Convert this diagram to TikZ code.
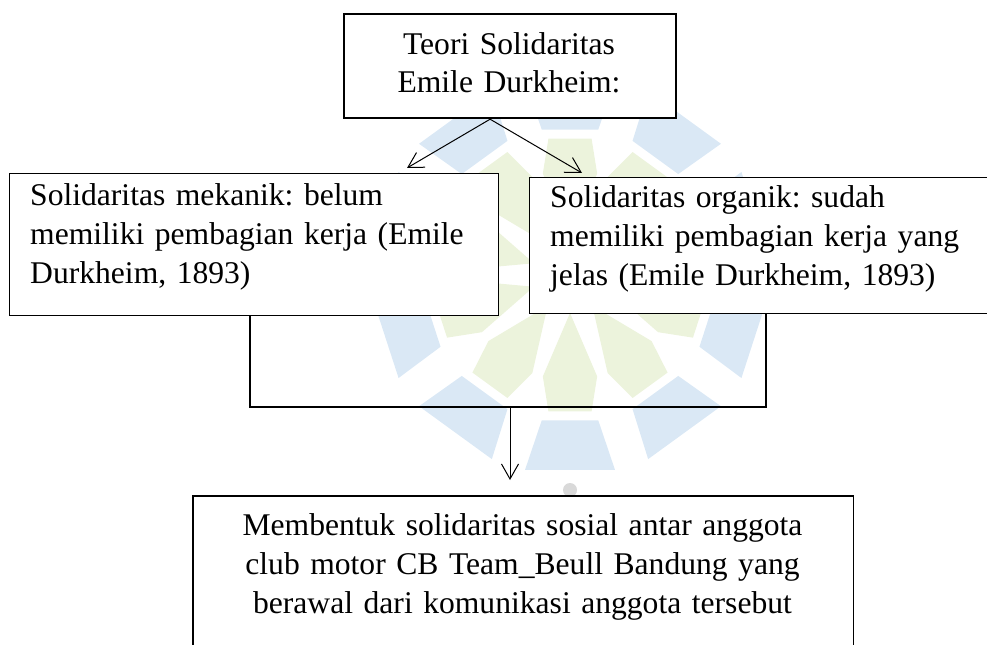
\documentclass[tikz,border=0pt]{standalone}
\usepackage{fontspec}
\setmainfont{Liberation Serif}
\frenchspacing
\usetikzlibrary{arrows.meta,calc}
\definecolor{wmblue}{RGB}{218,232,245}
\definecolor{wmgreen}{RGB}{236,243,220}
\begin{document}
\begin{tikzpicture}[x=1bp,y=-1bp,
  frame/.style={draw=black, fill=white, line width=1.2bp, inner sep=0pt, anchor=north west},
  txt/.style={inner sep=0pt, font=\fontsize{31.6bp}{39bp}\selectfont\frenchspacing},
  arr/.style={-{Straight Barb[length=15bp,width=17bp]}, line width=1bp},
  conn/.style={line width=1.4bp}]
\useasboundingbox (0,0) rectangle (987,645);
% watermark logo
\coordinate (wc) at (570,275);
\foreach \a in {18,54,...,342} {
  \pgfmathsetmacro\aL{\a-11}\pgfmathsetmacro\aR{\a+11}
  \pgfmathsetmacro\bL{\a-13}\pgfmathsetmacro\bR{\a+13}
  \fill[wmblue] ($(wc)+(\aL:148)$) -- ($(wc)+(\bL:200)$) -- ($(wc)+(\bR:200)$) -- ($(wc)+(\aR:148)$) -- cycle;
  \pgfmathsetmacro\cL{\a-15}\pgfmathsetmacro\cR{\a+15}
  \pgfmathsetmacro\dL{\a-9}\pgfmathsetmacro\dR{\a+9}
  \fill[wmgreen] ($(wc)+(\a:38)$) -- ($(wc)+(\cL:105)$) -- ($(wc)+(\dL:138)$) -- ($(wc)+(\dR:138)$) -- ($(wc)+(\cR:105)$) -- cycle;
}
\fill[gray!30] (570,490) circle (7);
% boxes
\node[frame, line width=2.2bp, minimum width=332bp, minimum height=104bp] (top) at (343,13) {};
\node[txt, anchor=base, align=center, text width=330bp, font=\fontsize{31.6bp}{38bp}\selectfont] (toptxt) at (509,55) {Teori Solidaritas\\Emile Durkheim:};
\node[frame, minimum width=489bp, minimum height=142bp] (left) at (9,173) {};
\node[txt, anchor=base west, align=left, text width=465bp] (lefttxt) at (30,206) {Solidaritas mekanik: belum\\memiliki pembagian kerja (Emile\\Durkheim, 1893)};
\node[frame, minimum width=470bp, minimum height=136bp] (right) at (529,177) {};
\node[txt, anchor=base west, align=left, text width=440bp] (righttxt) at (550,208) {Solidaritas organik: sudah\\memiliki pembagian kerja yang\\jelas (Emile Durkheim, 1893)};
\node[frame, draw=none, minimum width=659bp, minimum height=160bp] (bottom) at (193,496) {};
\draw[conn] (bottom.south west) -- (bottom.north west) -- (bottom.north east) -- (bottom.south east);
\node[txt, anchor=base, align=center, text width=650bp] (bottomtxt) at (522.5,535) {Membentuk solidaritas sosial antar anggota\\club motor CB Team\_Beull Bandung yang\\berawal dari komunikasi anggota tersebut};
% connectors
\coordinate (ts) at ([xshift=-20bp]top.south);
\coordinate (la) at (407,168);
\coordinate (ra) at (582,173);
\draw[arr] (ts) -- (la);
\draw[arr] (ts) -- (ra);
\coordinate (bl) at ([xshift=241bp]left.south west);
\coordinate (br) at ([xshift=237bp]right.south west);
\coordinate (jn) at (510,407);
\draw[conn] (bl) |- (jn) -| (br);
\draw[arr, shorten >=16bp] (jn) -- (jn |- bottom.north);
\end{tikzpicture}
\end{document}
